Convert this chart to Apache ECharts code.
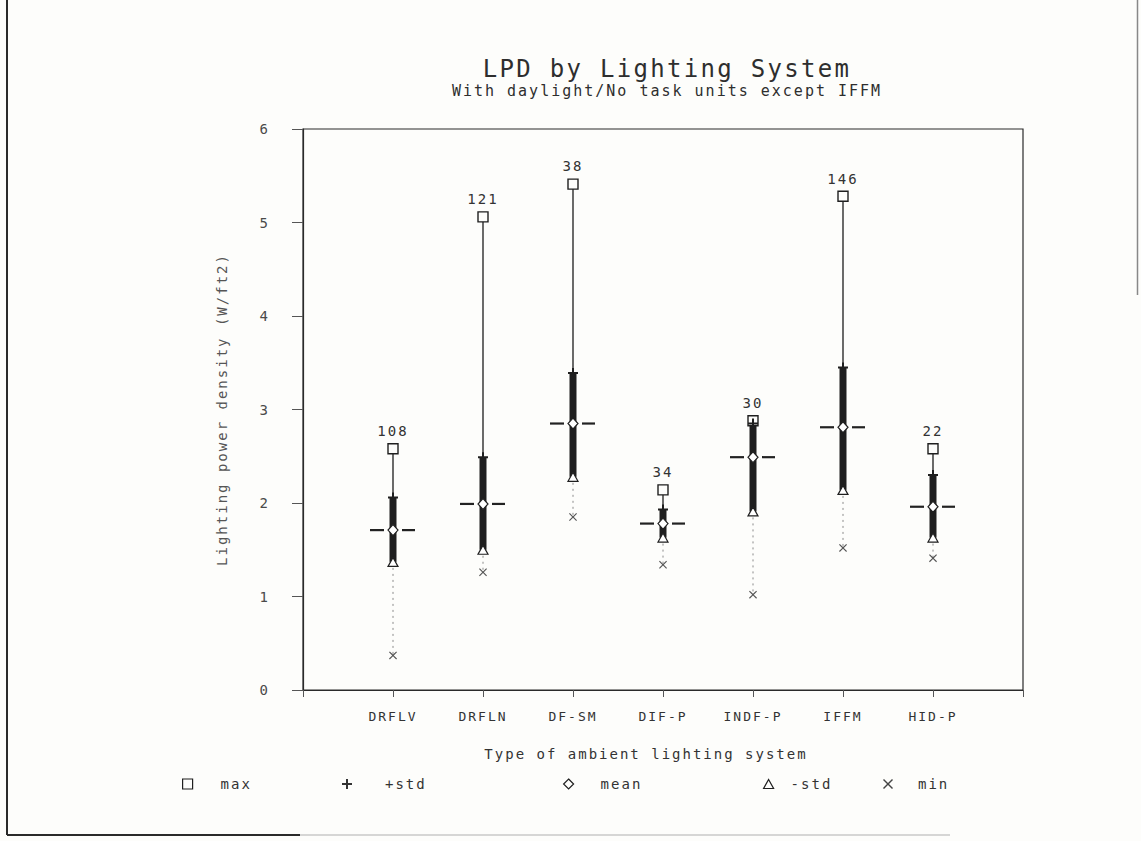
<!DOCTYPE html>
<html>
<head>
<meta charset="utf-8">
<script src="https://cdn.jsdelivr.net/npm/echarts@6/dist/echarts.min.js"></script>
<style>
  html, body { margin: 0; padding: 0; background: #fdfdfb; }
  #chart { width: 1141px; height: 841px; }
  /* plotter-style wide letter spacing */
  #chart svg text { letter-spacing: 2px; }
  #chart svg text[style*="24px"] { letter-spacing: 2.3px; }
</style>
</head>
<body>
<div id="chart"></div>
<script>
// Lighting power density summary per ambient lighting system (W/ft2)
const categories = ['DRFLV', 'DRFLN', 'DF-SM', 'DIF-P', 'INDF-P', 'IFFM', 'HID-P'];
const counts     = [108, 121, 38, 34, 30, 146, 22];
const maxVals    = [2.58, 5.06, 5.41, 2.14, 2.88, 5.28, 2.58];
const plusStd    = [2.06, 2.49, 3.39, 1.93, 2.85, 3.45, 2.30];
const meanVals   = [1.71, 1.99, 2.85, 1.78, 2.49, 2.81, 1.96];
const minusStd   = [1.37, 1.50, 2.28, 1.63, 1.91, 2.14, 1.63];
const minVals    = [0.37, 1.26, 1.85, 1.34, 1.02, 1.52, 1.41];
const yTicks     = [0, 1, 2, 3, 4, 5, 6];

const FONT = '"DejaVu Sans Mono", "Liberation Mono", monospace';
const INK = '#1f1f1f';
const TEXT = '#333333';
const BG = '#fdfdfb';

const PLUS_PATH = 'path://M4,0H6V4H10V6H6V10H4V6H0V4H4Z';
const CROSS_PATH = 'path://M1,0L5,4L9,0L10,1L6,5L10,9L9,10L5,6L1,10L0,9L4,5L0,1Z';
const SQUARE_PATH = 'path://M0,0H10V10H0Z';
const DIAMOND_PATH = 'path://M5,0L10,5L5,10L0,5Z';
const TRIANGLE_PATH = 'path://M5,0L10,9H0Z';

const xPos = categories.map((c, i) => i + 1);
const pts = vals => vals.map((v, i) => [xPos[i], v]);

const chart = echarts.init(document.getElementById('chart'), null, { renderer: 'svg' });

// one legend block per marker so each can sit at its own place along the bottom
function legendBox(name, icon, iconStyle, left, gap) {
  return {
    data: [{ name: name, icon: icon, itemStyle: iconStyle }],
    left: left, top: 777, padding: 0,
    itemWidth: 10, itemHeight: 10,
    selectedMode: false,
    textStyle: { fontFamily: FONT, fontSize: 14, color: TEXT, padding: [0, 0, 0, gap] }
  };
}

const option = {
  backgroundColor: BG,
  animation: false,
  title: [
    {
      text: 'LPD by Lighting System',
      left: 662, top: 52, textAlign: 'center',
      textStyle: { fontFamily: FONT, fontSize: 24, fontWeight: 'normal', color: '#2e2e2e' }
    },
    {
      text: 'With daylight/No task units except IFFM',
      left: 662, top: 78, textAlign: 'center',
      textStyle: { fontFamily: FONT, fontSize: 15, fontWeight: 'normal', color: '#2e2e2e' }
    }
  ],
  legend: [
    legendBox('max', SQUARE_PATH, { color: 'rgba(0,0,0,0)', borderColor: INK, borderWidth: 1.2 }, 182, 23),
    legendBox('+std', PLUS_PATH, { color: '#333', borderWidth: 0 }, 342, 28),
    legendBox('mean', DIAMOND_PATH, { color: 'rgba(0,0,0,0)', borderColor: INK, borderWidth: 1.2 }, 563, 22),
    legendBox('-std', TRIANGLE_PATH, { color: 'rgba(0,0,0,0)', borderColor: INK, borderWidth: 1.2 }, 763, 12),
    legendBox('min', CROSS_PATH, { color: '#444', borderWidth: 0 }, 883, 20)
  ],
  grid: {
    left: 303, right: 118, top: 129, bottom: 151,
    show: true, borderColor: '#2a2a2a', borderWidth: 1.2, backgroundColor: 'transparent',
    outerBoundsMode: 'none'
  },
  xAxis: {
    type: 'value', min: 0, max: categories.length + 1, interval: 1,
    axisLine: { show: true, lineStyle: { color: '#2a2a2a', width: 1.2 } },
    axisTick: { show: true, length: 7, lineStyle: { color: '#555', width: 1 } },
    axisLabel: {
      formatter: v => categories[v - 1] || '',
      margin: 20, fontFamily: FONT, fontSize: 13, color: TEXT
    },
    splitLine: { show: false },
    name: 'Type of ambient lighting system',
    nameLocation: 'middle', nameGap: 57,
    nameTextStyle: { fontFamily: FONT, fontSize: 14, color: TEXT, padding: [0, 34, 0, 0] }
  },
  yAxis: {
    type: 'value', min: yTicks[0], max: yTicks[yTicks.length - 1], interval: 1,
    axisLine: { show: true, lineStyle: { color: '#2a2a2a', width: 1.2 } },
    axisTick: { show: true, length: 11, lineStyle: { color: '#555', width: 1 } },
    axisLabel: { margin: 33, fontFamily: FONT, fontSize: 14, color: '#4a4a4a' },
    splitLine: { show: false },
    name: 'Lighting power density (W/ft2)',
    nameLocation: 'middle', nameGap: 74,
    nameTextStyle: { fontFamily: FONT, fontSize: 14, color: '#555' }
  },
  graphic: [
    { type: 'line', shape: { x1: 7, y1: 0, x2: 7, y2: 835 }, style: { stroke: '#2a2a2a', lineWidth: 2 } },
    { type: 'line', shape: { x1: 7, y1: 835, x2: 300, y2: 835 }, style: { stroke: '#2a2a2a', lineWidth: 2 } },
    { type: 'line', shape: { x1: 300, y1: 835, x2: 950, y2: 835 }, style: { stroke: '#c8c8c8', lineWidth: 1.5 } },
    { type: 'line', shape: { x1: 1137.5, y1: 0, x2: 1137.5, y2: 295 }, style: { stroke: '#888', lineWidth: 1.5 } }
  ],
  series: [
    {
      type: 'custom',
      name: 'range',
      data: categories.map((c, i) => [xPos[i], maxVals[i], plusStd[i], meanVals[i], minusStd[i], minVals[i]]),
      encode: { x: 0, y: [1, 2, 3, 4, 5] },
      renderItem: function (params, api) {
        const x = api.value(0);
        const pMax = api.coord([x, api.value(1)]);
        const pPlus = api.coord([x, api.value(2)]);
        const pMean = api.coord([x, api.value(3)]);
        const pMinus = api.coord([x, api.value(4)]);
        const pMin = api.coord([x, api.value(5)]);
        const cx = pMax[0];
        return {
          type: 'group',
          children: [
            { type: 'line', shape: { x1: cx, y1: pMax[1], x2: cx, y2: pPlus[1] },
              style: { stroke: '#2b2b2b', lineWidth: 1.4 } },
            { type: 'line', shape: { x1: cx, y1: pMinus[1], x2: cx, y2: pMin[1] },
              style: { stroke: '#8a8a8a', lineWidth: 1, lineDash: [2, 4] } },
            { type: 'rect', shape: { x: cx - 3.5, y: pPlus[1], width: 7, height: pMinus[1] - pPlus[1] },
              style: { fill: INK } },
            { type: 'line', shape: { x1: cx - 23, y1: pMean[1], x2: cx - 9, y2: pMean[1] },
              style: { stroke: '#222', lineWidth: 2.2 } },
            { type: 'line', shape: { x1: cx + 9, y1: pMean[1], x2: cx + 22, y2: pMean[1] },
              style: { stroke: '#222', lineWidth: 2.2 } }
          ]
        };
      },
      z: 1
    },
    {
      type: 'scatter', name: 'max', data: pts(maxVals),
      symbol: 'rect', symbolSize: 10,
      itemStyle: { color: BG, borderColor: INK, borderWidth: 1.4, opacity: 1 },
      label: {
        show: true, position: 'top', distance: 5,
        formatter: p => String(counts[p.dataIndex]),
        fontFamily: FONT, fontSize: 14, color: TEXT
      },
      z: 3
    },
    {
      type: 'scatter', name: '+std', data: pts(plusStd),
      symbol: PLUS_PATH, symbolSize: 10,
      itemStyle: { color: INK, opacity: 1 }, z: 3
    },
    {
      type: 'scatter', name: 'mean', data: pts(meanVals),
      symbol: 'diamond', symbolSize: [10, 11],
      itemStyle: { color: '#ffffff', borderColor: INK, borderWidth: 1.2, opacity: 1 }, z: 4
    },
    {
      type: 'scatter', name: '-std', data: pts(minusStd),
      symbol: 'triangle', symbolSize: [10, 9],
      itemStyle: { color: '#ffffff', borderColor: INK, borderWidth: 1.2, opacity: 1 }, z: 3
    },
    {
      type: 'scatter', name: 'min', data: pts(minVals),
      symbol: CROSS_PATH, symbolSize: 8,
      itemStyle: { color: '#555', opacity: 1 }, z: 3
    }
  ]
};

chart.setOption(option);
</script>
</body>
</html>
